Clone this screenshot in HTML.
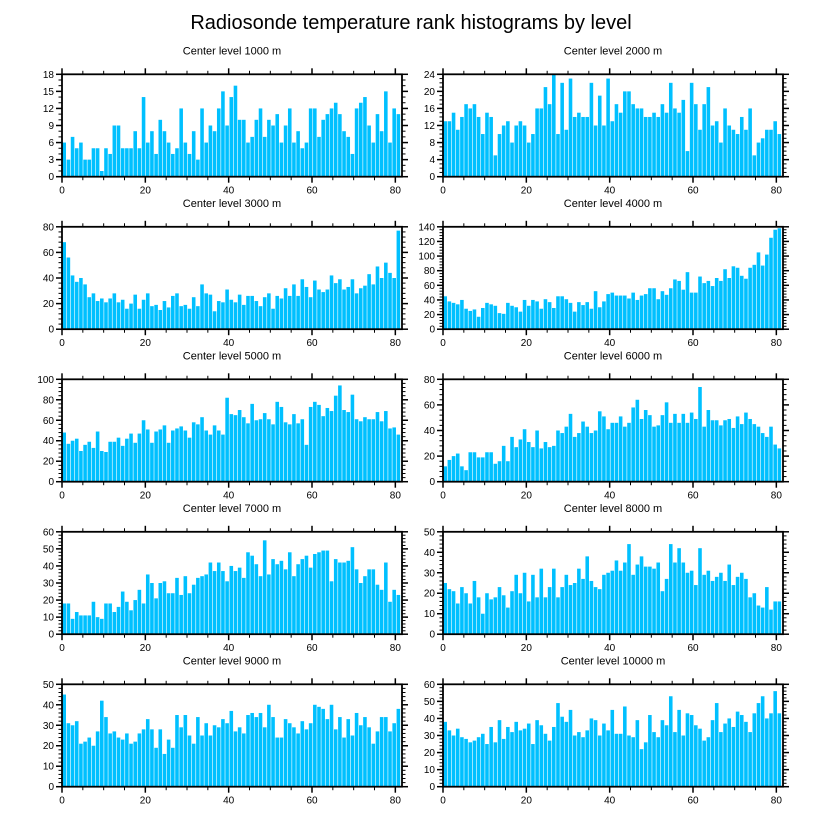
<!DOCTYPE html>
<html><head><meta charset="utf-8"><style>
html,body{margin:0;padding:0;background:#fff;}
svg{display:block;font-family:"Liberation Sans",sans-serif;}
</style></head><body>
<svg id="chart" width="822" height="824" viewBox="0 0 822 824">
<text x="411" y="29" text-anchor="middle" font-size="20">Radiosonde temperature rank histograms by level</text>
</svg>
<script>
const levels = ["1000","2000","3000","4000","5000","6000","7000","8000","9000","10000"];
const yMax = [18,24,80,140,100,80,60,50,50,60];
const yStep = [3,4,20,20,20,20,10,10,10,10];
const counts1000 = [6,3,7,5,6,3,3,5,5,1,5,4,9,9,5,5,5,8,5,14,6,8,4,10,8,6,4,5,12,6,4,8,3,12,6,9,8,12,15,9,14,16,10,10,6,7,10,12,7,10,9,11,6,9,12,6,8,5,6,12,12,7,10,11,12,13,11,8,7,4,12,13,14,9,6,11,8,15,6,12,11];
const counts2000 = [13,13,15,11,14,17,16,17,14,10,15,14,5,10,12,13,8,12,13,12,8,10,16,16,21,17,24,10,22,11,23,14,15,14,14,22,12,19,12,23,13,17,15,20,20,17,16,16,14,14,15,14,17,15,22,16,15,18,6,22,17,11,17,21,12,13,8,16,12,11,10,14,11,16,5,8,9,11,11,13,10];
const counts3000 = [68,56,42,37,40,35,25,28,22,24,21,24,28,21,23,16,20,27,16,23,28,18,19,15,22,17,26,28,18,19,16,25,18,35,28,27,14,22,21,31,23,21,27,19,26,26,22,18,25,28,16,26,24,32,26,35,26,39,33,25,38,31,29,31,42,36,39,31,33,39,28,32,34,43,35,49,40,52,44,40,77];
const counts4000 = [45,38,36,34,40,28,25,27,17,29,36,34,32,22,21,36,32,30,24,40,32,40,38,28,41,37,29,45,45,41,36,24,37,33,37,28,52,30,38,48,50,46,46,46,42,50,40,46,48,56,56,41,52,47,56,68,66,54,78,50,50,72,63,66,59,70,66,82,70,86,84,73,69,84,88,105,87,102,125,136,138];
const counts5000 = [48,37,40,42,30,36,39,33,49,30,29,39,39,43,35,42,47,38,47,60,51,38,49,51,55,38,50,52,54,50,43,58,56,63,50,46,55,50,46,82,66,65,70,63,57,76,60,61,67,61,56,78,73,58,56,66,57,61,36,73,78,75,64,72,69,84,94,70,68,85,61,59,63,61,61,68,59,69,52,53,46];
const counts6000 = [12,17,20,22,12,9,23,23,19,19,23,23,14,16,28,16,35,27,33,41,31,27,40,26,31,27,28,40,38,43,53,35,38,47,43,38,40,55,51,41,46,46,51,43,46,58,64,49,56,52,43,44,52,62,46,53,46,53,46,54,49,74,43,56,48,48,44,48,49,42,51,45,54,49,45,43,38,35,43,29,26];
const counts7000 = [18,18,9,13,11,11,11,19,10,9,18,18,13,16,25,19,14,20,26,18,35,30,21,30,31,24,24,33,23,34,24,29,33,34,35,42,37,42,37,31,40,37,39,33,48,46,41,34,55,35,44,41,43,38,48,34,41,44,46,39,47,48,49,49,31,44,42,42,43,51,38,30,34,38,38,29,26,42,19,26,23];
const counts8000 = [25,22,21,15,23,20,15,26,18,10,20,17,18,23,19,13,21,29,20,30,16,29,18,32,18,23,32,18,23,29,24,25,32,27,38,26,23,22,29,30,31,36,31,35,44,29,34,38,33,33,32,35,21,27,44,35,42,35,30,31,24,42,29,31,26,28,30,26,34,24,28,30,27,18,20,14,13,23,12,16,16];
const counts9000 = [45,31,30,32,21,22,24,20,27,42,34,26,27,24,23,26,21,22,26,28,33,28,19,28,16,23,19,35,29,35,25,21,34,25,31,25,30,29,33,31,37,27,29,26,35,36,34,36,29,40,34,24,24,33,31,29,26,32,28,31,40,39,38,33,40,28,34,24,33,25,36,30,34,29,21,27,34,34,27,31,38];
const counts10000 = [38,33,30,34,29,28,26,27,29,31,25,35,26,39,28,35,32,38,33,34,37,25,39,36,31,27,35,49,41,38,45,30,32,29,33,40,39,30,37,33,45,31,31,47,30,29,39,22,26,42,32,29,39,36,53,32,45,30,43,42,36,34,27,29,39,49,32,37,40,35,44,42,38,32,43,49,53,40,43,56,43];
const allCounts = [counts1000,counts2000,counts3000,counts4000,counts5000,counts6000,counts7000,counts8000,counts9000,counts10000];
const xTicks = [0,20,40,60,80];

const NS="http://www.w3.org/2000/svg";
const svg=document.getElementById('chart');
function mk(tag,attrs,parent){const e=document.createElementNS(NS,tag);for(const k in attrs)e.setAttribute(k,attrs[k]);(parent||svg).appendChild(e);return e;}

const X_MAX=81.6, PW=340, PH=102.4;
for(let p=0;p<10;p++){
  const col=p%2,row=Math.floor(p/2);
  const left=col?443:62, top=74.3+152.5*row;
  const g=mk('g',{});
  
  
  const xs=v=>left+v/X_MAX*PW;
  const ys=v=>top+PH-v/yMax[p]*PH;
  const t=mk('text',{x:left+PW/2,y:top-20,'text-anchor':'middle','font-size':'11'},g);
  t.textContent='Center level '+levels[p]+' m';
  
  
  const data=allCounts[p];
  const bw=(81.2/data.length);
  data.forEach((v,i)=>{
    const x0=xs(0.1+i*bw), x1=xs(0.1+(i+1)*bw);
    const r=mk('rect',{x:x0,y:ys(v),width:Math.max(0.5,x1-x0-0.6),height:ys(0)-ys(v),fill:'#00c0ff'},g);
    
    
  });
  const fr=mk('rect',{x:left,y:top,width:PW,height:PH,fill:'none',stroke:'#000','stroke-width':'1.8'},g);
  
  
  for(let v=0;v<=80;v+=5){
    const major=v%20===0, L=major?6:3.5, x=xs(v);
    mk('line',{x1:x,x2:x,y1:top+PH,y2:top+PH+L,stroke:'#000','stroke-width':major?1.5:1},g);
    mk('line',{x1:x,x2:x,y1:top,y2:top-L,stroke:'#000','stroke-width':major?1.5:1},g);
  }
  xTicks.forEach(v=>{
    const tl=mk('text',{x:xs(v),y:top+PH+17,'text-anchor':'middle','font-size':'10'},g);
    tl.textContent=v;
    
    
  });
  const minor=yStep[p]/(yStep[p]===3?3:(yStep[p]===4?4:5));
  for(let v=0;v<=yMax[p]+1e-6;v+=minor){
    const major=Math.abs(v/yStep[p]-Math.round(v/yStep[p]))<1e-6, L=major?6:3.5, y=ys(v);
    mk('line',{x1:left,x2:left-L,y1:y,y2:y,stroke:'#000','stroke-width':major?1.5:1},g);
    mk('line',{x1:left+PW,x2:left+PW+L,y1:y,y2:y,stroke:'#000','stroke-width':major?1.5:1},g);
  }
  for(let v=0;v<=yMax[p];v+=yStep[p]){
    const tl=mk('text',{x:left-8,y:ys(v)+3.5,'text-anchor':'end','font-size':'10'},g);
    tl.textContent=v;
    
    
  }
}
</script>
</body></html>
